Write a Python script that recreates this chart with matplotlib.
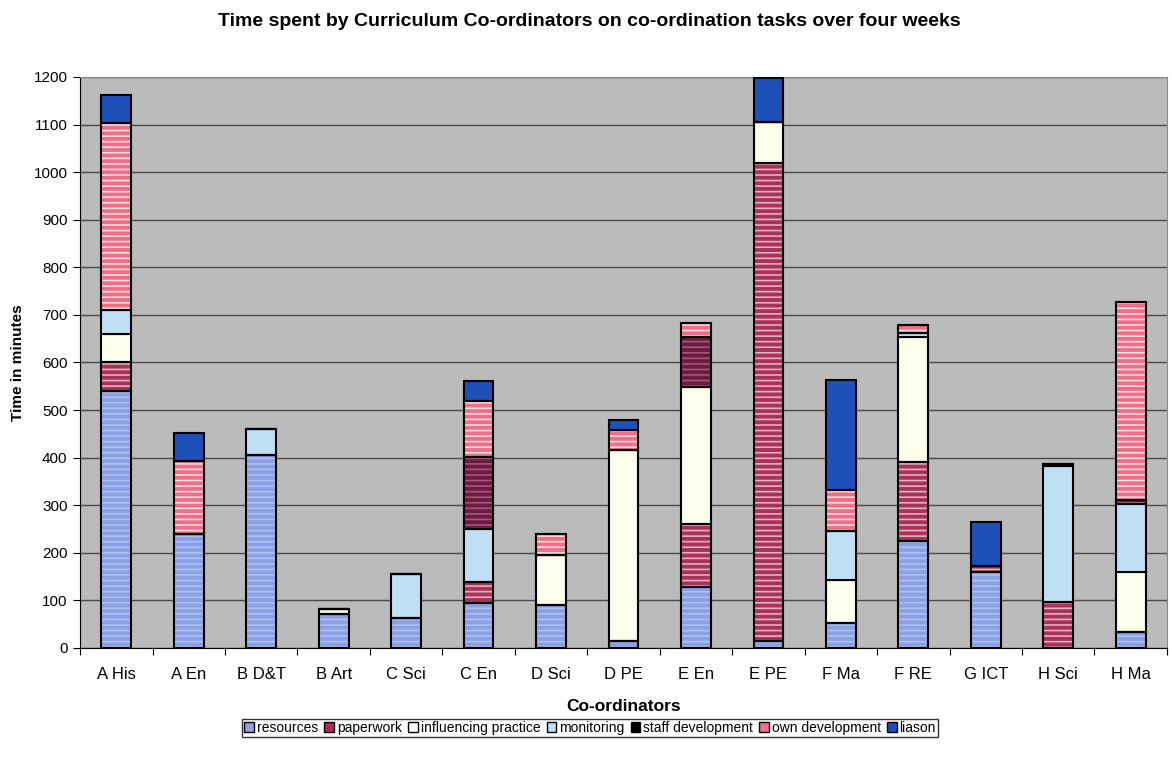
import matplotlib.pyplot as plt
from matplotlib.patches import Patch

plt.rcParams['font.family'] = ['Liberation Sans', 'DejaVu Sans']
plt.rcParams['hatch.linewidth'] = 1.2

coordinators = ['A His', 'A En', 'B D&T', 'B Art', 'C Sci', 'C En', 'D Sci', 'D PE',
                'E En', 'E PE', 'F Ma', 'F RE', 'G ICT', 'H Sci', 'H Ma']

# minutes per task, one entry per co-ordinator
resources = [540, 240, 405, 72, 62, 95, 90, 15, 128, 15, 52, 225, 160, 0, 33]
paperwork = [60, 0, 0, 0, 0, 44, 0, 0, 133, 1004, 0, 166, 12, 97, 0]
influencing = [60, 0, 0, 10, 0, 0, 105, 401, 288, 86, 91, 263, 0, 0, 127]
monitoring = [50, 0, 55, 0, 93, 111, 0, 0, 0, 0, 103, 8, 0, 285, 143]
staff_dev = [0, 0, 0, 0, 0, 151, 0, 0, 105, 0, 0, 0, 0, 5, 7]
own_dev = [393, 152, 0, 0, 0, 118, 45, 42, 29, 0, 86, 17, 0, 0, 418]
liason = [60, 60, 0, 0, 0, 42, 0, 21, 0, 93, 231, 0, 93, 0, 0]

task_names = ['resources', 'paperwork', 'influencing practice', 'monitoring',
              'staff development', 'own development', 'liason']
task_values = [resources, paperwork, influencing, monitoring, staff_dev, own_dev, liason]

# fill colour, stripe colour (None = plain)
styles = [
    ('#8f9fe3', '#a7c4f0'),
    ('#a8325a', '#e6b0c0'),
    ('#fdfdec', None),
    ('#bfe0f4', None),
    ('#6c1a42', '#a45878'),
    ('#f06d8c', '#fbe0d8'),
    ('#1f4fb8', None),
]
legend_colors = ['#8f9fe3', '#b02a62', '#fdfdec', '#bfe0f4', '#000000', '#f07090', '#1f4fb8']

fig = plt.figure(figsize=(11.72, 7.6), dpi=100)
ax = fig.add_axes([0.0683, 0.1474, 0.9274, 0.7513])
ax.set_facecolor('#bbbbbb')

x = list(range(len(coordinators)))
width = 0.41
bottom = [0] * len(coordinators)
for vals, (fc, hc) in zip(task_values, styles):
    if hc is None:
        ax.bar(x, vals, width, bottom=bottom, color=fc, edgecolor='black',
               linewidth=1.5, zorder=3)
    else:
        ax.bar(x, vals, width, bottom=bottom, color=fc, edgecolor=hc,
               hatch='---', linewidth=0, zorder=3)
        ax.bar(x, vals, width, bottom=bottom, fill=False, edgecolor='black',
               linewidth=1.5, zorder=4)
    bottom = [b + v for b, v in zip(bottom, vals)]

ax.set_xlim(-0.5, len(coordinators) - 0.5)
ax.set_ylim(0, 1200)
ax.set_yticks(range(0, 1201, 100))
ax.yaxis.grid(True, color='#4a4a4a', linewidth=1.0, zorder=1)
ax.set_axisbelow(True)

ax.set_xticks([i - 0.5 for i in range(len(coordinators) + 1)])
ax.set_xticklabels([])
ax.set_xticks(x, minor=True)
ax.set_xticklabels(coordinators, minor=True)
ax.tick_params(axis='x', which='minor', length=0, pad=14, labelsize=12)
ax.tick_params(axis='x', which='major', length=5, direction='out')
ax.tick_params(axis='y', length=5, direction='out', labelsize=11, pad=4)

for side in ['top', 'right']:
    ax.spines[side].set_color('#8a8a8a')
for side in ['left', 'bottom']:
    ax.spines[side].set_color('black')

ax.set_xlabel('Co-ordinators', fontsize=12.5, fontweight='bold', labelpad=12)
ax.set_ylabel('Time in minutes', fontsize=11, fontweight='bold', labelpad=6)
fig.text(0.503, 0.972, 'Time spent by Curriculum Co-ordinators on co-ordination tasks over four weeks',
         ha='center', va='center', fontsize=14, fontweight='bold')

handles = []
for name, lc in zip(task_names, legend_colors):
    handles.append(Patch(facecolor=lc, edgecolor='black', linewidth=1.0, label=name))
fig.legend(handles=handles, loc='center', bbox_to_anchor=(0.5036, 0.0425), ncol=7,
           fontsize=10, frameon=True, fancybox=False, edgecolor='black',
           handlelength=0.7, handleheight=0.7, handletextpad=0.2, columnspacing=0.45,
           borderpad=0.15, borderaxespad=0)

fig.savefig('out.png', dpi=100, facecolor='white')
